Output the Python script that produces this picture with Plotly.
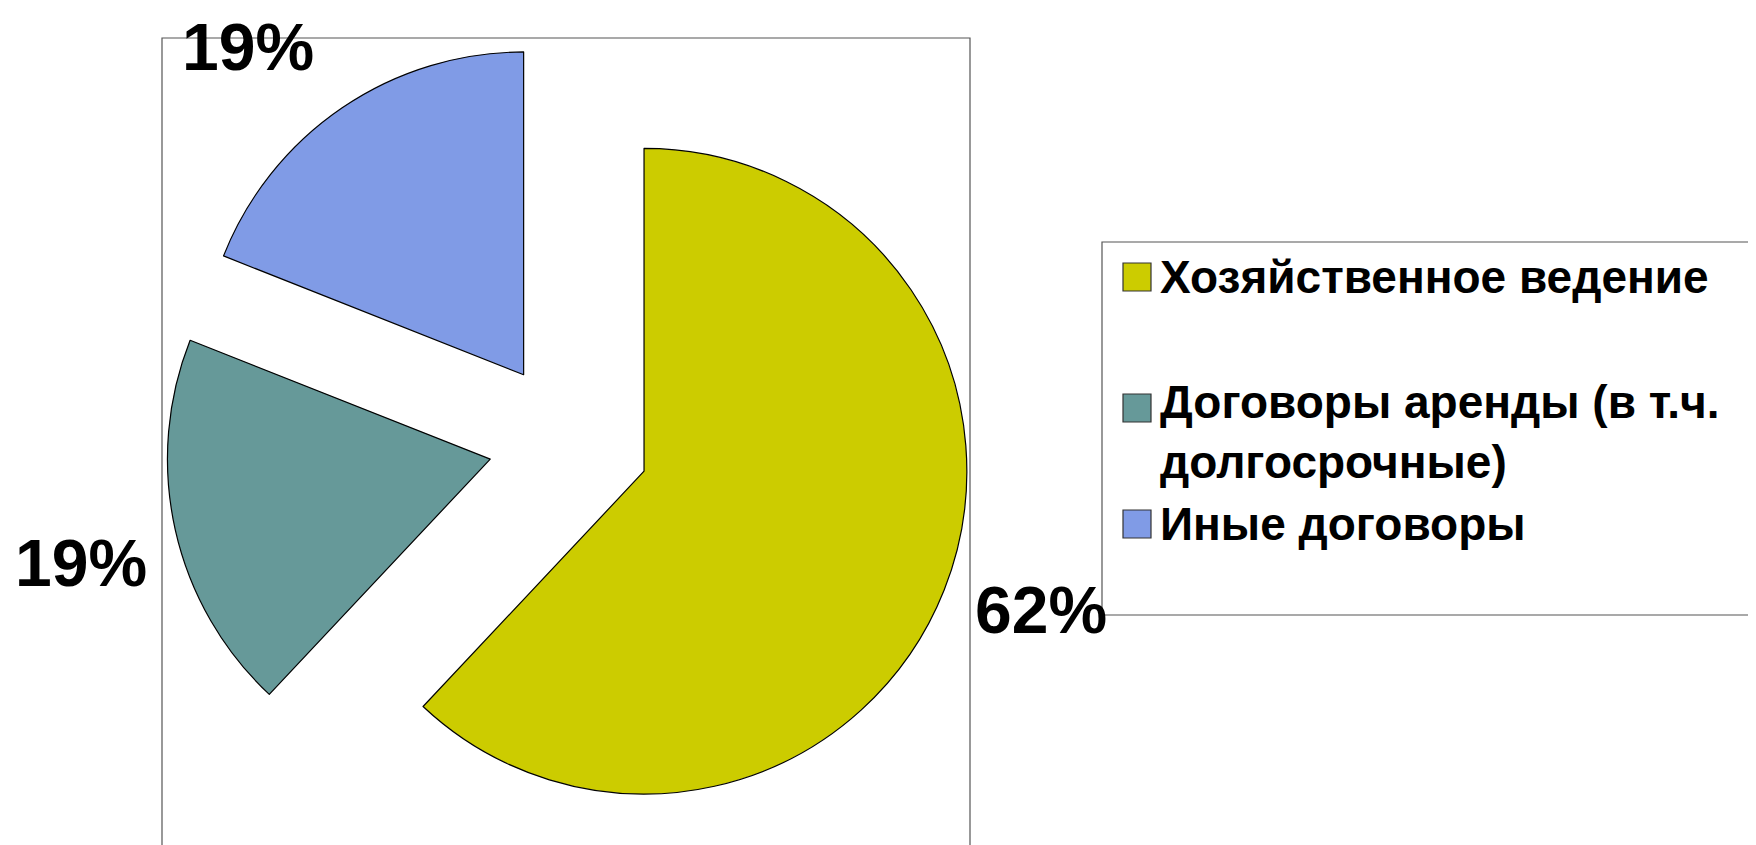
import plotly.graph_objects as go

# ── Data ────────────────────────────────────────────────────────
labels = [
    "Хозяйственное ведение",
    "Договоры аренды (в т.ч.<br>долгосрочные)",
    "Иные договоры",
]
values = [62, 19, 19]
colors = ["#CCCC00", "#669999", "#809BE6"]

W, H = 1756, 845
OFF = 8  # отступ body в html-странице
M_L, M_R, M_T, M_B = 157, 791, 30, 8
PW, PH = W - M_L - M_R, H - M_T - M_B

FONT = "Arial, Liberation Sans, sans-serif"


def px_x(x):
    # координата на странице -> paper
    return (x - OFF - M_L) / PW


def px_y(y):
    return (H - M_B - (y - OFF)) / PH


fig = go.Figure(go.Pie(
    labels=labels,
    values=values,
    sort=False,
    direction="clockwise",
    rotation=0,
    pull=[0.25, 0.25, 0.25],
    marker=dict(colors=colors, line=dict(color="#000000", width=1.2)),
    textinfo="none",
    showlegend=False,
    hovertemplate="%{label}: %{value} (%{percent})<extra></extra>",
))

# подписи долей (как в Excel — снаружи секторов)
total = sum(values)
label_pos = [(1041, 610), (81, 563), (248, 47)]
annotations = []
for v, (lx, ly) in zip(values, label_pos):
    annotations.append(dict(
        xref="paper", yref="paper", x=px_x(lx), y=px_y(ly),
        xanchor="center", yanchor="middle", text=f"{v / total:.0%}",
        showarrow=False,
        font=dict(family=FONT, size=66, color="#000000", weight=700),
    ))

# рамка области диаграммы
shapes = [dict(type="rect", xref="paper", yref="paper",
               x0=px_x(162), x1=px_x(970), y0=px_y(900), y1=px_y(38),
               line=dict(color="#555555", width=1.2), layer="below")]

# легенда (рамка + маркеры + подписи)
shapes.append(dict(type="rect", xref="paper", yref="paper",
                   x0=px_x(1102), x1=px_x(1800), y0=px_y(615), y1=px_y(242),
                   line=dict(color="#555555", width=1.2), layer="below"))

item_y = [277, 432, 524]
square_y = [277, 408, 524]
for lab, col, yc, sq in zip(labels, colors, item_y, square_y):
    shapes.append(dict(type="rect", xref="paper", yref="paper",
                       x0=px_x(1123), x1=px_x(1151), y0=px_y(sq + 14), y1=px_y(sq - 14),
                       fillcolor=col, line=dict(color="#333333", width=1.2)))
    annotations.append(dict(
        xref="paper", yref="paper", x=px_x(1158), y=px_y(yc),
        xanchor="left", yanchor="middle", align="left", text=lab, showarrow=False,
        font=dict(family=FONT, size=46, color="#000000", weight=700),
    ))

fig.update_layout(
    width=W, height=H,
    margin=dict(l=M_L, r=M_R, t=M_T, b=M_B, autoexpand=False),
    paper_bgcolor="#FFFFFF",
    plot_bgcolor="#FFFFFF",
    shapes=shapes,
    annotations=annotations,
)

fig.write_html("out.html")
